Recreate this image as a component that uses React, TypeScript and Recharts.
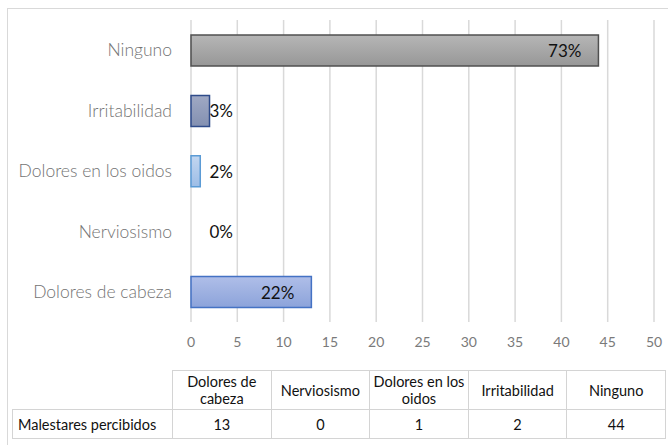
import { BarChart, Bar, XAxis, YAxis, CartesianGrid, LabelList, Cell } from "recharts";

const categories = ["Dolores de cabeza", "Nerviosismo", "Dolores en los oidos", "Irritabilidad", "Ninguno"];
const values = [13, 0, 1, 2, 44];
const xTicks = [0, 5, 10, 15, 20, 25, 30, 35, 40, 45, 50];
const rowLabel = "Malestares percibidos";

const total = values.reduce((a, b) => a + b, 0);
const data = categories.map((name, i) => ({
  name,
  value: values[i],
  pct: Math.round((values[i] / total) * 100),
}));

const FONT = "Lato, 'Open Sans', sans-serif";

// fill gradients + outlines, same order as categories
const barStyles = [
  { id: "gCabeza", top: "#afbee8", bottom: "#8ca3da", stroke: "#4472c4" },
  { id: "gNervios", top: "#a5a5a5", bottom: "#a5a5a5", stroke: "none" },
  { id: "gOidos", top: "#c2d6f0", bottom: "#9dbde6", stroke: "#5b9bd5" },
  { id: "gIrrit", top: "#a0a9c4", bottom: "#8390b1", stroke: "#2f4b8a" },
  { id: "gNinguno", top: "#b6b6b6", bottom: "#979797", stroke: "#505050" },
];

const PctLabel = (props: any) => {
  const { x, y, width, height, value } = props;
  const right = Math.max(x + width - 17, x + 42);
  return (
    <text
      x={right}
      y={y + height / 2}
      textAnchor="end"
      dominantBaseline="central"
      fontSize={17}
      fontFamily={FONT}
      fill="#111"
    >
      {value}%
    </text>
  );
};

const cell: any = {
  border: "1.5px solid #d4d4d4",
  textAlign: "center",
  verticalAlign: "middle",
  padding: "0 1px",
  lineHeight: "17px",
};

export default function App() {
  return (
    <div
      style={{
        position: "absolute",
        left: 0,
        top: 0,
        width: 668,
        height: 445,
        overflow: "hidden",
        background: "#fff",
        fontFamily: FONT,
      }}
    >
      <div
        style={{
          position: "absolute",
          left: 7,
          top: 8,
          width: 700,
          height: 500,
          border: "1.5px solid #d9d9d9",
        }}
      />
      <BarChart
        width={668}
        height={445}
        data={data}
        layout="vertical"
        margin={{ top: 20, right: 14, bottom: 93, left: 0 }}
        style={{ position: "absolute", left: 0, top: 0 }}
      >
        <defs>
          {barStyles.map((s) => (
            <linearGradient key={s.id} id={s.id} x1="0" y1="0" x2="0" y2="1">
              <stop offset="0%" stopColor={s.top} />
              <stop offset="100%" stopColor={s.bottom} />
            </linearGradient>
          ))}
        </defs>
        <CartesianGrid horizontal={false} stroke="#d9d9d9" strokeWidth={1.5} />
        <XAxis
          type="number"
          domain={[0, 50]}
          ticks={xTicks}
          axisLine={false}
          tickLine={false}
          height={30}
          tick={{ fill: "#7a7a7a", fontSize: 14, fontFamily: FONT }}
          dy={7}
        />
        <YAxis
          type="category"
          dataKey="name"
          reversed
          width={191}
          axisLine={false}
          tickLine={false}
          tickSize={0}
          tickMargin={19}
          tick={{ fill: "#737373", fontSize: 17.5, fontFamily: FONT, fontWeight: 300 }}
        />
        <Bar
          dataKey="value"
          barSize={31}
          isAnimationActive={false}
          minPointSize={(v: number) => (v === 0 ? 0.01 : 0)}
        >
          {data.map((d, i) => (
            <Cell
              key={d.name}
              fill={d.value === 0 ? "none" : `url(#${barStyles[i].id})`}
              stroke={barStyles[i].stroke}
              strokeWidth={1.5}
            />
          ))}
          <LabelList dataKey="pct" content={PctLabel} />
        </Bar>
      </BarChart>
      <table
        style={{
          position: "absolute",
          left: 12,
          top: 370,
          borderCollapse: "collapse",
          tableLayout: "fixed",
          fontSize: 14.5,
          color: "#111",
        }}
      >
        <colgroup>
          <col style={{ width: 160 }} />
          {categories.map((c) => (
            <col key={c} style={{ width: 98.6 }} />
          ))}
        </colgroup>
        <tbody>
          <tr style={{ height: 39 }}>
            <td style={{ border: "none" }} />
            {categories.map((c) => (
              <td key={c} style={cell}>
                {c}
              </td>
            ))}
          </tr>
          <tr style={{ height: 29 }}>
            <td style={{ ...cell, textAlign: "left", padding: "0 5px", whiteSpace: "nowrap" }}>{rowLabel}</td>
            {values.map((v, i) => (
              <td key={i} style={cell}>
                {v}
              </td>
            ))}
          </tr>
        </tbody>
      </table>
    </div>
  );
}
